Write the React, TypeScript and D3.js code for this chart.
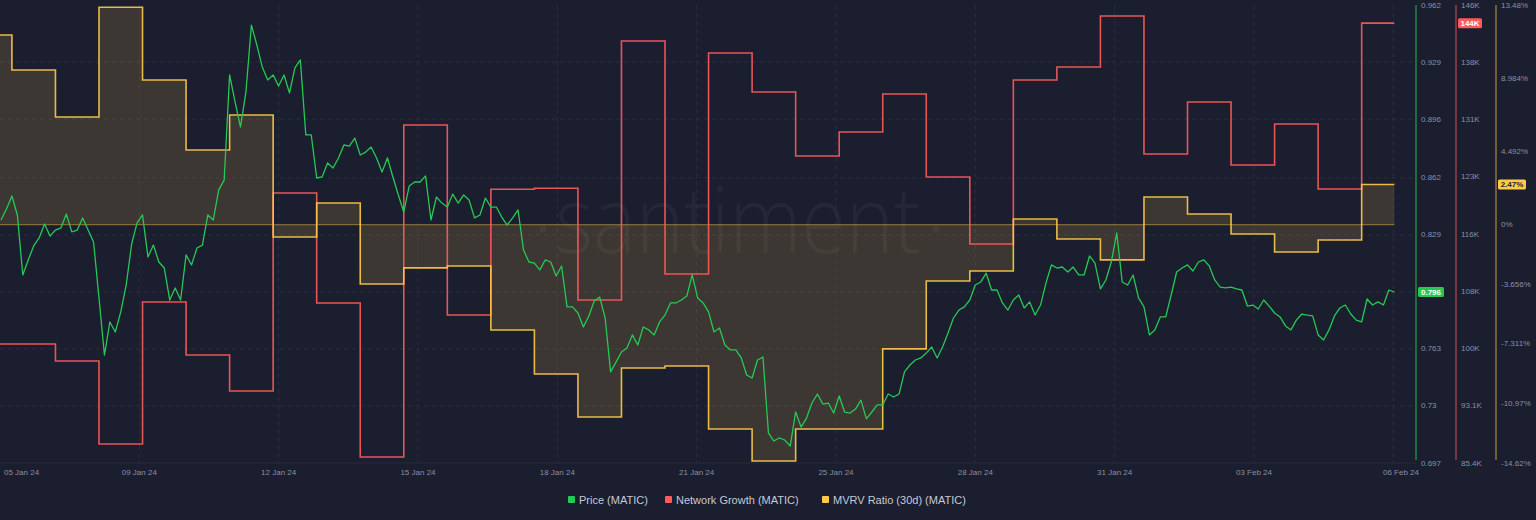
import React from "react";
import * as d3 from "d3";

// ---------- data ----------
const X_DOMAIN = ["2024-01-05T17:26:00Z", "2024-02-07T05:57:00Z"];
const X_TICKS = [
  "2024-01-05T17:26:00Z", "2024-01-08T22:14:00Z", "2024-01-12T03:02:00Z", "2024-01-15T07:50:00Z",
  "2024-01-18T12:38:00Z", "2024-01-21T17:26:00Z", "2024-01-24T22:14:00Z", "2024-01-28T03:02:00Z",
  "2024-01-31T07:50:00Z", "2024-02-03T12:38:00Z", "2024-02-06T17:26:00Z",
];
const X_TICK_LABELS = [
  "05 Jan 24", "09 Jan 24", "12 Jan 24", "15 Jan 24", "18 Jan 24", "21 Jan 24",
  "25 Jan 24", "28 Jan 24", "31 Jan 24", "03 Feb 24", "06 Feb 24",
];

// Price (MATIC), 3-hourly from 2024-01-05 18:00 UTC
const PRICE_START = "2024-01-05T18:00:00Z";
const PRICE_STEP_HOURS = 3;
const PRICE = [
  0.8376, 0.8440, 0.8515, 0.8405, 0.8058, 0.8145, 0.8226, 0.8272, 0.8353, 0.8283,
  0.8318, 0.8330, 0.8411, 0.8307, 0.8318, 0.8388, 0.8318, 0.8249, 0.7925, 0.7595,
  0.7786, 0.7728, 0.7844, 0.8000, 0.8237, 0.8359, 0.8405, 0.8162, 0.8231, 0.8133,
  0.8098, 0.7913, 0.7983, 0.7913, 0.8174, 0.8116, 0.8214, 0.8231, 0.8405, 0.8376,
  0.8550, 0.8607, 0.9215, 0.9059, 0.8914, 0.9117, 0.9504, 0.9389, 0.9261, 0.9186,
  0.9215, 0.9151, 0.9215, 0.9111, 0.9256, 0.9302, 0.8868, 0.8868, 0.8619, 0.8625,
  0.8706, 0.8677, 0.8735, 0.8810, 0.8804, 0.8850, 0.8752, 0.8769, 0.8798, 0.8735,
  0.8654, 0.8735, 0.8625, 0.8521, 0.8422, 0.8573, 0.8596, 0.8596, 0.8631, 0.8376,
  0.8509, 0.8474, 0.8451, 0.8526, 0.8474, 0.8521, 0.8492, 0.8388, 0.8405, 0.8503,
  0.8451, 0.8451, 0.8393, 0.8347, 0.8388, 0.8434, 0.8202, 0.8133, 0.8127, 0.8087,
  0.8145, 0.8133, 0.8052, 0.8110, 0.7873, 0.7873, 0.7838, 0.7757, 0.7821, 0.7907,
  0.7930, 0.7809, 0.7497, 0.7554, 0.7612, 0.7635, 0.7711, 0.7653, 0.7757, 0.7740,
  0.7711, 0.7786, 0.7826, 0.7896, 0.7896, 0.7913, 0.7936, 0.8058, 0.7925, 0.7896,
  0.7844, 0.7728, 0.7751, 0.7653, 0.7624, 0.7624, 0.7578, 0.7479, 0.7462, 0.7566,
  0.7583, 0.7144, 0.7097, 0.7115, 0.7103, 0.7068, 0.7265, 0.7178, 0.7230, 0.7317,
  0.7369, 0.7311, 0.7317, 0.7259, 0.7358, 0.7265, 0.7259, 0.7282, 0.7334, 0.7225,
  0.7265, 0.7306, 0.7306, 0.7369, 0.7352, 0.7369, 0.7497, 0.7537, 0.7566, 0.7578,
  0.7606, 0.7641, 0.7578, 0.7641, 0.7722, 0.7809, 0.7855, 0.7873, 0.7913, 0.8000,
  0.8017, 0.8069, 0.7971, 0.7971, 0.7896, 0.7855, 0.7913, 0.7942, 0.7867, 0.7902,
  0.7826, 0.7884, 0.8012, 0.8116, 0.8098, 0.8104, 0.8075, 0.8104, 0.8058, 0.8058,
  0.8168, 0.8127, 0.7977, 0.8029, 0.8133, 0.8301, 0.8017, 0.8000, 0.8058, 0.7925,
  0.7873, 0.7711, 0.7740, 0.7815, 0.7815, 0.7942, 0.8075, 0.8098, 0.8116, 0.8081,
  0.8133, 0.8145, 0.8110, 0.8029, 0.7988, 0.7983, 0.7988, 0.7977, 0.7971, 0.7878,
  0.7884, 0.7861, 0.7913, 0.7878, 0.7838, 0.7815, 0.7763, 0.7740, 0.7797, 0.7832,
  0.7826, 0.7821, 0.7711, 0.7682, 0.7740, 0.7821, 0.7867, 0.7884, 0.7832, 0.7797,
  0.7786, 0.7919, 0.7884, 0.7902, 0.7884, 0.7971, 0.7959,
];

// Daily step series, from 2024-01-05
const STEP_START = "2024-01-05T00:00:00Z";
// Network Growth (MATIC), thousands
const NETWORK = [
  101.15, 101.15, 98.9, 87.92, 106.7, 99.69, 94.93, 121.13, 106.57, 86.2,
  130.12, 104.98, 121.62, 121.75, 106.97, 141.24, 110.41, 139.65, 134.49, 126.02,
  129.2, 134.22, 123.24, 114.38, 136.08, 137.8, 144.54, 126.29, 133.17, 124.83,
  130.25, 121.65, 143.6,
];
// MVRV Ratio (30d) (MATIC), percent
const MVRV = [
  11.64, 9.49, 6.61, 13.34, 8.88, 4.58, 6.73, -0.75, 1.33, -3.64,
  -2.65, -2.53, -6.46, -9.16, -11.8, -8.79, -8.67, -12.53, -14.5, -12.53,
  -12.53, -7.62, -3.45, -2.84, 0.35, -0.88, -2.16, 1.7, 0.66, -0.57,
  -1.67, -0.94, 2.47,
];

const PRICE_DOMAIN = [0.697, 0.962];
const PRICE_TICKS = [0.962, 0.929, 0.896, 0.862, 0.829, 0.796, 0.763, 0.73, 0.697];
const NET_DOMAIN = [85.4, 146];
const NET_TICKS = [146, 138.425, 130.85, 123.275, 115.7, 108.125, 100.55, 92.975, 85.4];
const NET_TICK_LABELS = ["146K", "138K", "131K", "123K", "116K", "108K", "100K", "93.1K", "85.4K"];
const MVRV_DOMAIN = [-14.62, 13.48];
const MVRV_TICKS = [13.48, 8.984, 4.492, 0, -3.656, -7.311, -10.97, -14.62];
const MVRV_TICK_LABELS = ["13.48%", "8.984%", "4.492%", "0%", "-3.656%", "-7.311%", "-10.97%", "-14.62%"];

const SERIES = [
  { name: "Price (MATIC)", color: "#26c953" },
  { name: "Network Growth (MATIC)", color: "#ff5b5b" },
  { name: "MVRV Ratio (30d) (MATIC)", color: "#ffcb47" },
];

// ---------- component ----------
type Pt = { t: Date; v: number };

export default function App() {
  const W = 1536;
  const H = 520;
  const plotL = 0, plotR = 1416, plotT = 5, plotB = 463;
  const FONT = "'Liberation Sans', Arial, sans-serif";
  const BG = "#1b1e2e";
  const GRID = "#2a2e42";
  const TICK_TXT = "#8a8fa6";

  const x = d3.scaleUtc().domain(X_DOMAIN.map((d) => new Date(d))).range([plotL, plotR]);
  const yP = d3.scaleLinear().domain(PRICE_DOMAIN).range([plotB, plotT]);
  const yN = d3.scaleLinear().domain(NET_DOMAIN).range([plotB, plotT]);
  const yM = d3.scaleLinear().domain(MVRV_DOMAIN).range([plotB, plotT]);

  const pStart = new Date(PRICE_START);
  const priceData: Pt[] = PRICE.map((v, i) => ({ t: d3.utcHour.offset(pStart, PRICE_STEP_HOURS * i), v }));
  const endT = priceData[priceData.length - 1].t;
  const sStart = new Date(STEP_START);
  const mkStep = (arr: number[]): Pt[] => {
    const pts = arr.map((v, i) => ({ t: d3.utcDay.offset(sStart, i), v }));
    pts.push({ t: endT, v: arr[arr.length - 1] });
    return pts;
  };
  const netData = mkStep(NETWORK);
  const mvrvData = mkStep(MVRV);

  const priceLine = d3.line<Pt>().x((d) => x(d.t)).y((d) => yP(d.v)).curve(d3.curveLinear);
  const netLine = d3.line<Pt>().x((d) => x(d.t)).y((d) => yN(d.v)).curve(d3.curveStepAfter);
  const mvrvLine = d3.line<Pt>().x((d) => x(d.t)).y((d) => yM(d.v)).curve(d3.curveStepAfter);
  const mvrvArea = d3
    .area<Pt>()
    .x((d) => x(d.t))
    .y0(yM(0))
    .y1((d) => yM(d.v))
    .curve(d3.curveStepAfter);

  const lastP = PRICE[PRICE.length - 1];
  const lastN = NETWORK[NETWORK.length - 1];
  const lastM = MVRV[MVRV.length - 1];

  const axP = plotR;
  const axN = 1456;
  const axM = 1496;

  const legendX = [568, 665, 822];

  return (
    <svg
      width={W}
      height={H}
      style={{ position: "absolute", left: 0, top: 0, display: "block" }}
      fontFamily={FONT}
    >
      <defs>
        <clipPath id="plotClip">
          <rect x={plotL} y={0} width={plotR - plotL} height={plotB + 2} />
        </clipPath>
      </defs>
      <rect x={0} y={0} width={W} height={H} fill={BG} />

      {/* grid */}
      {PRICE_TICKS.slice(1, -1).map((t, i) => (
        <line key={"hg" + i} x1={plotL} x2={plotR} y1={yP(t)} y2={yP(t)} stroke={GRID} strokeDasharray="4 4" strokeWidth={1} />
      ))}
      {X_TICKS.slice(1).map((t, i) => (
        <line key={"vg" + i} x1={x(new Date(t))} x2={x(new Date(t))} y1={plotT} y2={plotB} stroke={GRID} strokeDasharray="4 4" strokeWidth={1} />
      ))}
      <line x1={plotL} x2={plotR} y1={plotB} y2={plotB} stroke="#24283a" strokeWidth={1} />

      {/* watermark */}
      <g fill="#ffffff" fillOpacity={0.045}>
        <text x={555} y={253} fontSize={92} fontFamily="'Open Sans', sans-serif" fontWeight={300} textLength={366} lengthAdjust="spacingAndGlyphs">
          santiment
        </text>
        <circle cx={543} cy={229} r={3.6} />
        <circle cx={936} cy={229} r={3.6} />
      </g>

      <g clipPath="url(#plotClip)">
        <path d={mvrvArea(mvrvData) || ""} fill="#ffcb47" fillOpacity={0.15} />
        <line x1={plotL} x2={x(endT)} y1={yM(0)} y2={yM(0)} stroke="#ffcb47" strokeOpacity={0.5} strokeWidth={1} />
        <path d={netLine(netData) || ""} fill="none" stroke="#ff5b5b" strokeOpacity={0.9} strokeWidth={1.6} />
        <path d={mvrvLine(mvrvData) || ""} fill="none" stroke="#ffcb47" strokeOpacity={0.9} strokeWidth={1.6} />
        <path d={priceLine(priceData) || ""} fill="none" stroke="#26c953" strokeWidth={1.3} strokeLinejoin="round" />
      </g>

      {/* right axes */}
      <line x1={axP} x2={axP} y1={plotT} y2={plotB - 3} stroke="#26c953" strokeOpacity={0.6} strokeWidth={1.5} />
      <line x1={axN} x2={axN} y1={plotT} y2={plotB - 3} stroke="#ff5b5b" strokeOpacity={0.55} strokeWidth={1.5} />
      <line x1={axM} x2={axM} y1={plotT} y2={plotB - 3} stroke="#ffcb47" strokeOpacity={0.5} strokeWidth={1.5} />

      <g fontSize={8} fill={TICK_TXT}>
        {PRICE_TICKS.map((t, i) => (
          <text key={"pt" + i} x={axP + 5} y={yP(t)} dominantBaseline="central">
            {String(t)}
          </text>
        ))}
        {NET_TICKS.map((t, i) => (
          <text key={"nt" + i} x={axN + 5} y={yN(t)} dominantBaseline="central">
            {NET_TICK_LABELS[i]}
          </text>
        ))}
        {MVRV_TICKS.map((t, i) => (
          <text key={"mt" + i} x={axM + 5} y={yM(t)} dominantBaseline="central">
            {MVRV_TICK_LABELS[i]}
          </text>
        ))}
      </g>

      {/* last value badges */}
      <g fontSize={8} fontWeight={700}>
        <rect x={axP + 2} y={yP(lastP) - 5} width={26} height={10} rx={1.5} fill="#26c953" />
        <text x={axP + 15} y={yP(lastP)} textAnchor="middle" dominantBaseline="central" fill="#ffffff">
          {d3.format(".3f")(lastP)}
        </text>
        <rect x={axN + 2} y={yN(lastN) - 5} width={24} height={10} rx={1.5} fill="#ff5b5b" />
        <text x={axN + 14} y={yN(lastN)} textAnchor="middle" dominantBaseline="central" fill="#ffffff">
          {d3.format(".0f")(lastN) + "K"}
        </text>
        <rect x={axM + 2} y={yM(lastM) - 5} width={28} height={10} rx={1.5} fill="#ffcb47" />
        <text x={axM + 16} y={yM(lastM)} textAnchor="middle" dominantBaseline="central" fill="#1b1e2e">
          {d3.format(".2f")(lastM) + "%"}
        </text>
      </g>

      {/* x axis labels */}
      <g fontSize={8} fill={TICK_TXT}>
        {X_TICKS.map((t, i) => {
          const px = x(new Date(t));
          const first = i === 0;
          const last = i === X_TICKS.length - 1;
          return (
            <text
              key={"xt" + i}
              x={first ? px + 4 : last ? plotR + 3 : px}
              y={474.5}
              textAnchor={first ? "start" : last ? "end" : "middle"}
            >
              {X_TICK_LABELS[i]}
            </text>
          );
        })}
      </g>

      {/* legend */}
      <g fontSize={11} fill="#c6c9d6">
        {SERIES.map((s, i) => (
          <g key={"lg" + i}>
            <rect x={legendX[i]} y={496} width={7} height={7} rx={1} fill={s.color} />
            <text x={legendX[i] + 11} y={499.5} dominantBaseline="central">
              {s.name}
            </text>
          </g>
        ))}
      </g>
    </svg>
  );
}
